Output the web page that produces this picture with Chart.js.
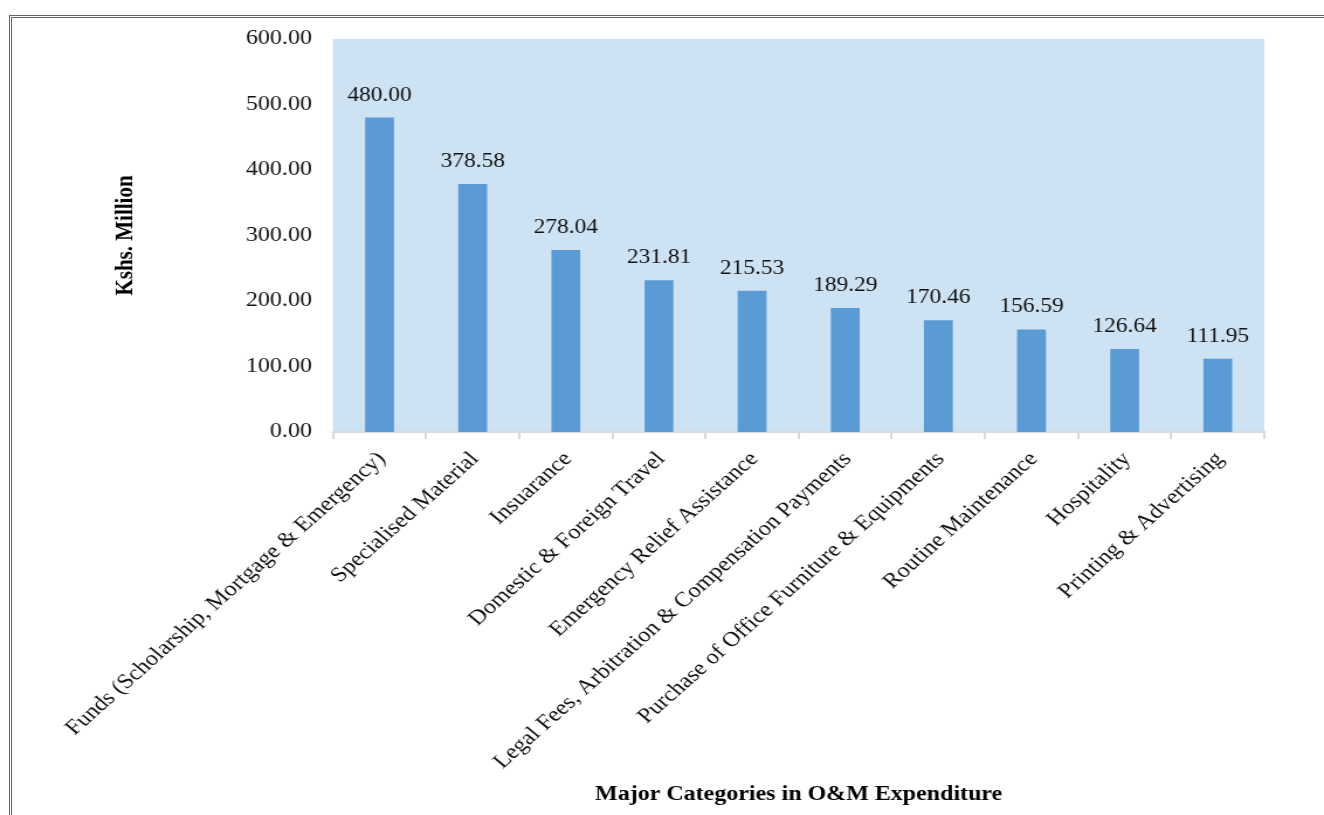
<!DOCTYPE html>
<html>
<head>
<meta charset="utf-8">
<script src="https://cdn.jsdelivr.net/npm/chart.js@4/dist/chart.umd.min.js"></script>
<style>
    html, body { margin: 0; padding: 0; background: #fff; overflow: hidden; }
    body { width: 1324px; height: 815px; position: relative; }
    #frame { position: absolute; left: 9px; top: 15px; right: -10px; bottom: -10px;
             border-top: 3px double #666; border-left: 3px double #666; }
    #wrap { position: absolute; left: 0; top: 0; width: 1132px; height: 815px;
            transform: scaleX(1.1696); transform-origin: 0 0; }
</style>
</head>
<body>
<div id="frame"></div>
<div id="wrap"><canvas id="omChart"></canvas></div>
<script>
const categories = [
    'Funds (Scholarship, Mortgage & Emergency)',
    'Specialised Material',
    'Insuarance',
    'Domestic & Foreign Travel',
    'Emergency Relief Assistance',
    'Legal Fees, Arbitration & Compensation Payments',
    'Purchase of Office Furniture & Equipments',
    'Routine Maintenance',
    'Hospitality',
    'Printing & Advertising'
];
const expenditure = [480.00, 378.58, 278.04, 231.81, 215.53, 189.29, 170.46, 156.59, 126.64, 111.95];
const yTickValues = [0, 100, 200, 300, 400, 500, 600];

const serif = '"Liberation Serif", "Times New Roman", Times, serif';
const textColor = '#111';

// light blue plot background
const plotBackground = {
    id: 'plotBackground',
    beforeDraw(chart) {
        const { ctx, chartArea: a } = chart;
        ctx.save();
        ctx.fillStyle = '#cde3f3';
        ctx.fillRect(a.left, a.top, a.right - a.left, a.bottom - a.top);
        ctx.restore();
    }
};

// value labels above the bars
const valueLabels = {
    id: 'valueLabels',
    afterDatasetsDraw(chart) {
        const { ctx } = chart;
        const meta = chart.getDatasetMeta(0);
        ctx.save();
        ctx.font = '20px ' + serif;
        ctx.fillStyle = textColor;
        ctx.textAlign = 'center';
        ctx.textBaseline = 'alphabetic';
        meta.data.forEach((bar, i) => {
            ctx.fillText(expenditure[i].toFixed(2), bar.x, bar.y - 17);
        });
        ctx.restore();
    }
};

const ctx = document.getElementById('omChart').getContext('2d');
new Chart(ctx, {
    type: 'bar',
    data: {
        labels: categories,
        datasets: [{
            data: expenditure,
            backgroundColor: '#5b9bd5',
            categoryPercentage: 1,
            barPercentage: 0.31
        }]
    },
    options: {
        responsive: true,
        maintainAspectRatio: false,
        animation: false,
        events: [],
        layout: { padding: { left: 91, top: 39, right: 51, bottom: 4 } },
        plugins: { legend: { display: false }, tooltip: { enabled: false } },
        scales: {
            x: {
                grid: { display: true, offset: true, drawOnChartArea: false, color: '#d9d9d9', lineWidth: 2, tickLength: 7 },
                border: { display: true, color: '#d9d9d9', width: 2 },
                ticks: { color: textColor, font: { family: serif, size: 21 }, minRotation: 46, maxRotation: 46,
                         autoSkip: false, padding: 8, labelOffset: 2 },
                title: { display: true, text: 'Major Categories in O&M Expenditure', color: '#000', font: { family: serif, size: 20.5, weight: 'bold' } },
                afterFit: scale => { scale.height = 815 - 4 - 432; }
            },
            y: {
                min: 0,
                max: 600,
                grid: { display: false, drawTicks: false },
                border: { display: false },
                afterBuildTicks: scale => { scale.ticks = yTickValues.map(v => ({ value: v })); },
                ticks: { color: textColor, font: { family: serif, size: 20.5 }, padding: 18, callback: v => Number(v).toFixed(2) },
                title: { display: true, text: 'Kshs. Million', color: '#000', font: { family: serif, size: 21, weight: 'bold' } },
                afterFit: scale => { scale.width = 284.7 - 91; }
            }
        }
    },
    plugins: [plotBackground, valueLabels]
});
</script>
</body>
</html>
